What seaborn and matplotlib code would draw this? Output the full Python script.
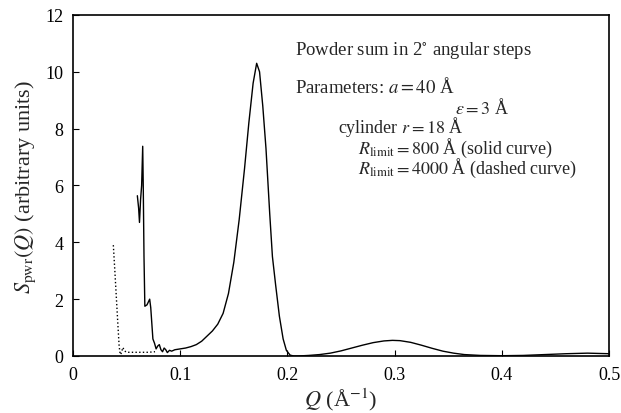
import numpy as np
import pandas as pd
import seaborn as sns
import matplotlib.pyplot as plt

# solid curve, R_limit = 800 A
q_solid = [0.0600, 0.0612, 0.0620, 0.0630, 0.0640, 0.0650, 0.0655, 0.0662, 0.0670,
           0.0690, 0.0715, 0.0725, 0.0745, 0.0760, 0.0775, 0.0790, 0.0805, 0.0820,
           0.0835, 0.0850, 0.0865, 0.0880, 0.0900, 0.0920, 0.0950,
           0.100, 0.105, 0.110, 0.115, 0.120, 0.125, 0.130, 0.135, 0.140, 0.145,
           0.150, 0.155, 0.160, 0.164, 0.168, 0.1713, 0.174, 0.177, 0.180, 0.1835,
           0.186, 0.189, 0.1925, 0.196, 0.199, 0.2025, 0.206, 0.210,
           0.220, 0.230, 0.240, 0.250, 0.260, 0.270, 0.280, 0.290, 0.298, 0.305,
           0.315, 0.325, 0.335, 0.345, 0.355, 0.365, 0.380, 0.400, 0.420, 0.440,
           0.460, 0.480, 0.500]
s_solid = [5.64, 5.20, 4.70, 5.50, 6.00, 7.38, 6.00, 3.50, 1.75,
           1.80, 2.00, 1.70, 0.60, 0.45, 0.25, 0.35, 0.40, 0.22,
           0.15, 0.28, 0.22, 0.12, 0.20, 0.17, 0.22,
           0.25, 0.28, 0.33, 0.40, 0.52, 0.70, 0.88, 1.12, 1.50, 2.20,
           3.30, 4.80, 6.60, 8.20, 9.60, 10.30, 10.00, 8.80, 7.30, 5.00,
           3.50, 2.50, 1.40, 0.60, 0.20, 0.03, 0.00, 0.00,
           0.02, 0.05, 0.10, 0.18, 0.28, 0.38, 0.47, 0.53, 0.55, 0.54,
           0.48, 0.38, 0.27, 0.17, 0.10, 0.05, 0.02, 0.01, 0.02, 0.05,
           0.08, 0.10, 0.08]

# dashed (dotted) curve, R_limit = 4000 A
q_dash = [0.0376, 0.0390, 0.0405, 0.0420, 0.0430, 0.0440, 0.0450, 0.0465, 0.0480,
          0.0500, 0.0600, 0.0700, 0.0765]
s_dash = [3.90, 3.00, 2.00, 1.00, 0.36, 0.05, 0.10, 0.30, 0.18,
          0.13, 0.13, 0.13, 0.15]

x_ticks = [0, 0.1, 0.2, 0.3, 0.4, 0.5]
x_labels = ['0', '0.1', '0.2', '0.3', '0.4', '0.5']
y_ticks = [0, 2, 4, 6, 8, 10, 12]

sns.set_theme(style='ticks')
plt.rcParams['font.family'] = ['Liberation Serif', 'DejaVu Serif']
plt.rcParams['mathtext.fontset'] = 'stix'
plt.rcParams['xtick.direction'] = 'in'
plt.rcParams['ytick.direction'] = 'in'

df_solid = pd.DataFrame({'Q': q_solid, 'S': s_solid})
df_dash = pd.DataFrame({'Q': q_dash, 'S': s_dash})

fig = plt.figure(figsize=(6.21, 4.14), dpi=100)
ax = fig.add_axes([0.1176, 0.1377, 0.8631, 0.8237])

sns.lineplot(x='Q', y='S', data=df_solid, color='black', linewidth=1.0,
             sort=False, estimator=None, ax=ax)
sns.lineplot(x='Q', y='S', data=df_dash, color='black', linewidth=1.0,
             linestyle=':', sort=False, estimator=None, ax=ax)

ax.set_xlim(0, 0.5)
ax.set_ylim(0, 12)
ax.set_xticks(x_ticks)
ax.set_xticklabels(x_labels)
ax.set_yticks(y_ticks)
ax.tick_params(axis='both', labelsize=13, length=4, width=0.8, colors='black',
               top=False, right=False, pad=7)
for sp in ax.spines.values():
    sp.set_color('black')
    sp.set_linewidth(1.2)

ax.set_xlabel(r'$Q$ (Å$^{-1}$)', fontsize=16, labelpad=2)
ax.set_ylabel(r'$S_{\rm pwr}(Q)$ (arbitrary units)', fontsize=16, labelpad=5)

fs = 13
ax.text(0.2071, 10.63, 'Powder sum in 2$^{\\circ}$ angular steps', fontsize=fs + 0.5, va='baseline')
ax.text(0.2071, 9.28, r'Parameters: $a = 40$ Å', fontsize=fs + 0.5, va='baseline')
ax.text(0.3563, 8.55, r'$\varepsilon = 3$ Å', fontsize=fs, va='baseline')
ax.text(0.2472, 7.88, r'cylinder $r = 18$ Å', fontsize=fs, va='baseline')
# both R_limit lines in one text block so they sit tight like the reference
ax.text(0.2659, 6.45,
        r'$R_{\rm limit} = 800$ Å (solid curve)' + '\n' + r'$R_{\rm limit} = 4000$ Å (dashed curve)',
        fontsize=fs, va='baseline', linespacing=0.8)

fig.savefig('out.png', dpi=100)
